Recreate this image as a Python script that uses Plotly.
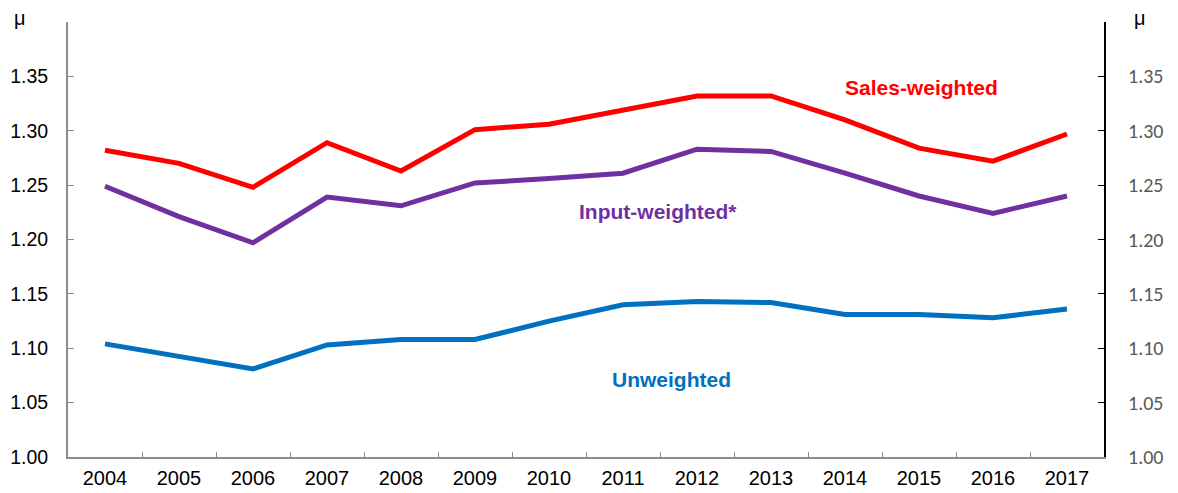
import plotly.graph_objects as go

years = [str(y) for y in range(2004, 2018)]
sales_weighted = [1.282, 1.270, 1.248, 1.289, 1.263, 1.301, 1.306, 1.319, 1.332, 1.332, 1.310, 1.284, 1.272, 1.297]
input_weighted = [1.249, 1.221, 1.197, 1.239, 1.231, 1.252, 1.256, 1.261, 1.283, 1.281, 1.261, 1.240, 1.224, 1.240]
unweighted = [1.104, 1.093, 1.081, 1.103, 1.108, 1.108, 1.125, 1.140, 1.143, 1.142, 1.131, 1.131, 1.128, 1.136]
y_ticks = [1.00, 1.05, 1.10, 1.15, 1.20, 1.25, 1.30, 1.35]
y_ticktext = ["%.2f" % v for v in y_ticks]

fig = go.Figure()
fig.add_trace(go.Scatter(x=years, y=sales_weighted, mode="lines", line=dict(color="#FF0000", width=5), name="Sales-weighted"))
fig.add_trace(go.Scatter(x=years, y=input_weighted, mode="lines", line=dict(color="#7030A0", width=5), name="Input-weighted*"))
fig.add_trace(go.Scatter(x=years, y=unweighted, mode="lines", line=dict(color="#0070C0", width=5), name="Unweighted"))
# invisible trace to activate right axis
fig.add_trace(go.Scatter(x=years, y=unweighted, yaxis="y2", mode="lines", line=dict(width=0), opacity=0,
                         showlegend=False, hoverinfo="skip"))

fig.update_layout(
    width=1170, height=485,
    margin=dict(l=60, r=74, t=14, b=36),
    plot_bgcolor="white", paper_bgcolor="white",
    showlegend=False,
    font=dict(family="Liberation Sans, Arial, sans-serif", size=19, color="black"),
    xaxis=dict(type="category", range=[-0.5, 13.5], tickson="boundaries", ticks="inside", ticklen=5,
               tickcolor="#8c8c8c", showline=True, linecolor="#8c8c8c", linewidth=2, showgrid=False,
               zeroline=False, ticklabelstandoff=2, automargin=False, tickfont=dict(size=20, color="black")),
    yaxis=dict(range=[1.0, 1.4], tickvals=y_ticks, ticktext=y_ticktext, ticks="inside", ticklen=6,
               tickcolor="#8c8c8c", showline=True, linecolor="#8c8c8c", linewidth=2, showgrid=False,
               zeroline=False, ticklabelstandoff=14, automargin=False, tickfont=dict(size=19.5, color="black")),
    yaxis2=dict(range=[1.0, 1.4], tickvals=y_ticks, ticktext=y_ticktext, overlaying="y", side="right",
                ticks="inside", ticklen=6, tickcolor="black", showline=True, linecolor="black", linewidth=2,
                showgrid=False, zeroline=False, ticklabelstandoff=18, automargin=False,
                tickfont=dict(family="Carlito, Liberation Sans, sans-serif", size=20, color="#595959")),
)

fig.add_annotation(text="μ", xref="paper", yref="paper", x=-0.0463, y=1.009, xanchor="center", yanchor="middle",
                   showarrow=False, font=dict(size=20, color="black"))
fig.add_annotation(text="μ", xref="paper", yref="paper", x=1.0347, y=1.009, xanchor="center", yanchor="middle",
                   showarrow=False, font=dict(size=20, color="black"))
fig.add_annotation(text="<b>Sales-weighted</b>", x=11.04, y=1.340, xref="x", yref="y", showarrow=False,
                   font=dict(size=21, color="#FF0000"))
fig.add_annotation(text="<b>Input-weighted*</b>", x=7.47, y=1.2253, xref="x", yref="y", showarrow=False,
                   font=dict(size=21, color="#7030A0"))
fig.add_annotation(text="<b>Unweighted</b>", x=7.65, y=1.0717, xref="x", yref="y", showarrow=False,
                   font=dict(size=21, color="#0070C0"))

fig.write_html("out.html")
